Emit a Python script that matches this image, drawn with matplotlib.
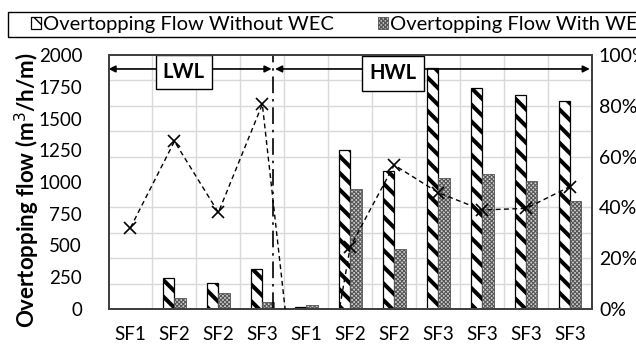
import numpy as np
import matplotlib
matplotlib.use("Agg")
import matplotlib.pyplot as plt
from matplotlib.patches import Rectangle
from matplotlib.transforms import blended_transform_factory
from matplotlib.ticker import PercentFormatter

# Data
categories = ["SF1", "SF2", "SF2", "SF3", "SF1", "SF2", "SF2", "SF3", "SF3", "SF3", "SF3"]
flow_without_wec = [0, 241, 202, 312, 18, 1251, 1088, 1895, 1737, 1684, 1639]
flow_with_wec = [0, 84, 123, 57, 30, 942, 470, 1033, 1060, 1007, 850]
reduction = [0.32, 0.66, 0.38, 0.806, -0.75, 0.245, 0.567, 0.458, 0.39, 0.396, 0.482]
series_names = ["Overtopping Flow Without WEC", "Overtopping Flow With WEC"]
region_labels = ["LWL", "HWL"]

plt.rcParams["font.family"] = ["Lato", "DejaVu Sans"]
FS = 13.5

fig = plt.figure(figsize=(6.36, 3.47), dpi=100)
ax = fig.add_axes([108.5 / 636, 38 / 347, 483.5 / 636, 254 / 347])
ax2 = ax.twinx()

x = np.arange(len(categories))
w = 0.26

bars_a = ax.bar(x - w / 2, flow_without_wec, w, facecolor="white", edgecolor="black",
                linewidth=0.9, hatch="\\\\", zorder=2)
bars_b = ax.bar(x + w / 2, flow_with_wec, w, facecolor="#cfcfcf", edgecolor="#555555",
                linewidth=0.6, hatch="xxxxxxxx", zorder=2)
for p in bars_a:
    try:
        p.set_hatch_linewidth(2.9)
    except AttributeError:
        pass
for p in bars_b:
    try:
        p.set_hatch_linewidth(0.8)
    except AttributeError:
        pass

ax.set_xlim(-0.5, len(categories) - 0.5)
ax.set_ylim(0, 2000)
ax.set_yticks(np.arange(0, 2001, 250))
ax.set_xticks(x)
ax.set_xticklabels(categories)
# grid: category boundaries and every 10 % of the secondary scale
ax.set_xticks(np.arange(0.5, len(categories) - 0.5, 1), minor=True)
ax.set_yticks(np.arange(200, 2000, 200), minor=True)
ax.grid(which="minor", color="#d9d9d9", linewidth=1.0)
ax.grid(which="major", visible=False)
ax.set_axisbelow(True)
ax.tick_params(axis="both", which="both", length=0, labelsize=FS)
ax.tick_params(axis="y", pad=19)
ax.tick_params(axis="x", pad=12)

ax2.set_ylim(0, 1)
ax2.set_yticks(np.arange(0, 1.01, 0.2))
ax2.yaxis.set_major_formatter(PercentFormatter(1.0, decimals=0))
ax2.tick_params(axis="y", length=0, labelsize=14, pad=5)

ax2.plot(x, reduction, linestyle=(0, (3.5, 2.5)), color="black", linewidth=1.0,
         marker="x", markersize=8, markeredgewidth=1.2, zorder=3)

for a in (ax, ax2):
    for s in a.spines.values():
        s.set_color("#404040")
        s.set_linewidth(1.3)

# water-level divider and span arrows
split = 3.24
ax.axvline(split, color="black", linewidth=1.2, linestyle=(0, (10, 3.5, 1.5, 3.5)), zorder=4)
tr = blended_transform_factory(ax.transData, ax.transAxes)
ya = 0.945
ax.annotate("", xy=(-0.5, ya), xytext=(split - 0.03, ya), xycoords=tr, textcoords=tr,
            arrowprops=dict(arrowstyle="<|-|>", color="black", lw=1.2,
                            mutation_scale=10, shrinkA=0, shrinkB=0), zorder=5)
ax.annotate("", xy=(split + 0.05, ya), xytext=(10.45, ya), xycoords=tr, textcoords=tr,
            arrowprops=dict(arrowstyle="<|-|>", color="black", lw=1.2,
                            mutation_scale=10, shrinkA=0, shrinkB=0), zorder=5)
box = dict(boxstyle="square,pad=0.36", facecolor="white", edgecolor="black", linewidth=1.0)
ax.text(1.216, 0.94, region_labels[0], transform=tr, ha="center", va="center_baseline",
        fontsize=14.5, fontweight="bold", bbox=box, zorder=6)
ax.text(5.966, 0.936, region_labels[1], transform=tr, ha="center", va="center_baseline",
        fontsize=14.5, fontweight="bold", bbox=box, zorder=6)

fig.text(27 / 636, 1 - 190 / 347, "Overtopping flow (m$^3$/h/m)",
         rotation=90, ha="center", va="center", fontsize=16, fontweight="bold")

# legend strip across the top
fig.patches.append(Rectangle((8 / 636, 1 - 37.3 / 347), 640 / 636, 25.6 / 347,
                             transform=fig.transFigure, facecolor="white",
                             edgecolor="black", linewidth=1.0))
leg = fig.legend([bars_a, bars_b], series_names, loc="center left",
                 bbox_to_anchor=(31 / 636, 1 - 24.5 / 347), ncol=2, fontsize=14.5,
                 frameon=False, handlelength=0.5, handleheight=0.5,
                 handletextpad=0.08, columnspacing=2.2, borderpad=0, borderaxespad=0)

fig.savefig("out.png", dpi=100)
